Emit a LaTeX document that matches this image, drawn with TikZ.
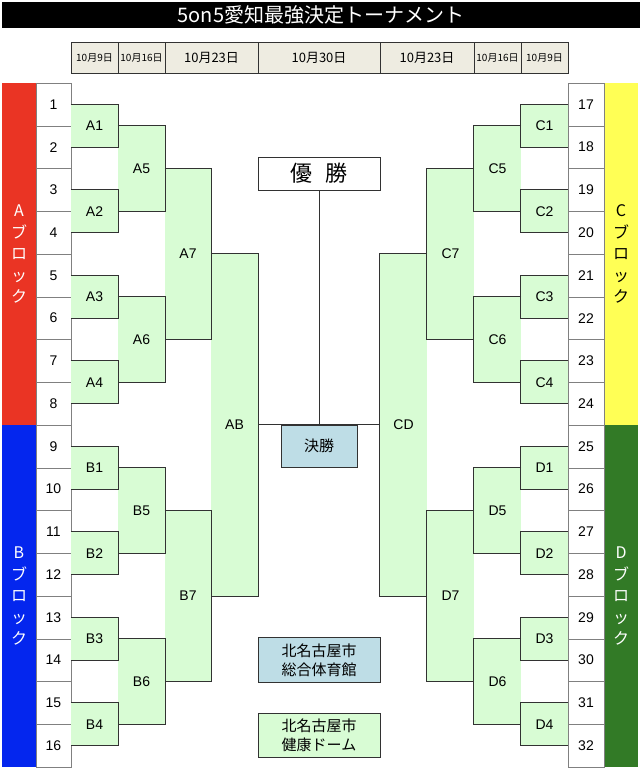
\documentclass[tikz,border=0pt]{standalone}
\usepackage{fontspec}
\setmainfont{Liberation Sans}
\newfontfamily\jp{Noto Sans CJK JP}
\usepackage{tikz}
\usetikzlibrary{positioning,calc}
\definecolor{trouge}{RGB}{234,52,36}
\definecolor{tbleu}{RGB}{4,38,238}
\definecolor{tjaune}{RGB}{255,255,85}
\definecolor{tvert}{RGB}{50,122,38}
\definecolor{tclair}{RGB}{216,252,212}
\definecolor{tciel}{RGB}{190,221,230}
\definecolor{tbeige}{RGB}{238,236,225}
\definecolor{ttrait}{RGB}{50,50,50}

\begin{document}
\begin{tikzpicture}[x=1pt, y=-1pt,
  num/.style={rectangle, draw=gray, fill=white, minimum width=35pt,
    minimum height=42.75pt, inner sep=0pt, font=\fontsize{14}{16}\selectfont},
  match/.style={rectangle, fill=tclair, minimum width=47pt, inner sep=0pt,
    font=\fontsize{14}{16}\selectfont},
  date/.style={rectangle, draw=ttrait, fill=tbeige, minimum height=31pt,
    inner sep=0pt, font=\jp\fontsize{13}{15}\selectfont},
  petit/.style={date, font=\jp\fontsize{10}{12}\selectfont},
  bloc/.style={rectangle, minimum width=35pt, minimum height=342pt, inner sep=0pt,
    align=center, font=\jp\fontsize{16}{21.5}\selectfont},
  info/.style={rectangle, draw=ttrait, minimum width=122pt, inner sep=0pt,
    align=center, font=\jp\fontsize{15}{19}\selectfont},
  trait/.style={ttrait, line width=0.8pt}
]
  \useasboundingbox (0,0) rectangle (640,770);

  % Title and dates
  \node[fill=black, text=white, minimum width=638pt, minimum height=26pt, inner sep=0pt,
    font=\jp\fontsize{20}{22}\selectfont] (titre) at (321,15) {5on5愛知最強決定トーナメント};
  \node[petit, minimum width=47pt] (jA1) at (94.5,57.5)  {10月9日};
  \node[petit, minimum width=47pt] (jA2) at (141.5,57.5) {10月16日};
  \node[date, minimum width=93pt]  (jA3) at (211.5,57.5) {10月23日};
  \node[date, minimum width=122pt] (jF)  at (319,57.5)   {10月30日};
  \node[date, minimum width=94pt]  (jC3) at (427,57.5)   {10月23日};
  \node[petit, minimum width=47pt] (jC2) at (497.5,57.5) {10月16日};
  \node[petit, minimum width=47pt] (jC1) at (544.5,57.5) {10月9日};

  % Blocks
  \node[bloc, fill=trouge, text=white] (blocA) at (19,254) {A\\ブ\\ロ\\ッ\\ク};
  \node[bloc, fill=tbleu, text=white]  (blocB) at (19,596) {B\\ブ\\ロ\\ッ\\ク};
  \node[bloc, fill=tjaune, minimum width=34pt] (blocC) at (621,254) {C\\ブ\\ロ\\ッ\\ク};
  \node[bloc, fill=tvert, text=white, minimum width=34pt] (blocD) at (621,596) {D\\ブ\\ロ\\ッ\\ク};

  % Team numbers
  \foreach \i in {1,...,16}
    \node[num] (n\i) at (53.5,{83+(\i-0.5)*42.75}) {\i};
  \foreach \i in {17,...,32}
    \node[num, minimum width=36pt] (n\i) at (586,{83+(\i-16.5)*42.75}) {\i};

  % Left half
  \node[match, minimum height=42.75pt] (A1) at (94.5,125.75) {A1};
  \node[match, minimum height=42.75pt] (A2) at (94.5,211.25) {A2};
  \node[match, minimum height=42.75pt] (A3) at (94.5,296.75) {A3};
  \node[match, minimum height=42.75pt] (A4) at (94.5,382.25) {A4};
  \node[match, minimum height=42.75pt] (B1) at (94.5,467.75) {B1};
  \node[match, minimum height=42.75pt] (B2) at (94.5,553.25) {B2};
  \node[match, minimum height=42.75pt] (B3) at (94.5,638.75) {B3};
  \node[match, minimum height=42.75pt] (B4) at (94.5,724.25) {B4};
  \node[match, minimum height=85.5pt] (A5) at (141.5,168.5) {A5};
  \node[match, minimum height=85.5pt] (A6) at (141.5,339.5) {A6};
  \node[match, minimum height=85.5pt] (B5) at (141.5,510.5) {B5};
  \node[match, minimum height=85.5pt] (B6) at (141.5,681.5) {B6};
  \node[match, minimum height=171pt, minimum width=46pt] (A7) at (188,254) {A7};
  \node[match, minimum height=171pt, minimum width=46pt] (B7) at (188,596) {B7};
  \node[match, minimum height=342pt] (AB) at (234.5,425) {AB};

  % Right half
  \node[match, minimum height=42.75pt] (C1) at (544.5,125.75) {C1};
  \node[match, minimum height=42.75pt] (C2) at (544.5,211.25) {C2};
  \node[match, minimum height=42.75pt] (C3) at (544.5,296.75) {C3};
  \node[match, minimum height=42.75pt] (C4) at (544.5,382.25) {C4};
  \node[match, minimum height=42.75pt] (D1) at (544.5,467.75) {D1};
  \node[match, minimum height=42.75pt] (D2) at (544.5,553.25) {D2};
  \node[match, minimum height=42.75pt] (D3) at (544.5,638.75) {D3};
  \node[match, minimum height=42.75pt] (D4) at (544.5,724.25) {D4};
  \node[match, minimum height=85.5pt] (C5) at (497.5,168.5) {C5};
  \node[match, minimum height=85.5pt] (C6) at (497.5,339.5) {C6};
  \node[match, minimum height=85.5pt] (D5) at (497.5,510.5) {D5};
  \node[match, minimum height=85.5pt] (D6) at (497.5,681.5) {D6};
  \node[match, minimum height=171pt] (C7) at (450.5,254) {C7};
  \node[match, minimum height=171pt] (D7) at (450.5,596) {D7};
  \node[match, minimum height=342pt] (CD) at (403.5,425) {CD};

  % Bracket lines
  \foreach \m in {A1,A2,A3,A4,B1,B2,B3,B4,A5,A6,B5,B6,A7,B7,AB}
    \draw[trait] (\m.north west) -- (\m.north east) -- (\m.south east) -- (\m.south west);
  \foreach \m in {C1,C2,C3,C4,D1,D2,D3,D4,C5,C6,D5,D6,C7,D7,CD}
    \draw[trait] (\m.north east) -- (\m.north west) -- (\m.south west) -- (\m.south east);

  % Final
  \node[info, fill=white, minimum height=33pt, font=\jp\fontsize{22}{24}\selectfont]
    (yusho) at (319,173.5) {優\hspace{0.55em}勝};
  \node[info, fill=tciel, minimum width=76pt, minimum height=42pt] (kessho) at (319,446) {決勝};
  \draw[trait] (yusho.south) -- (yusho.south |- kessho.north);
  \draw[trait] (AB.east |- kessho.north) -- (CD.west |- kessho.north);

  % Venues
  \node[info, fill=tciel, minimum height=45pt] (kaikan) at (319,660) {北名古屋市\\総合体育館};
  \node[info, fill=tclair, minimum height=44pt] (dome) at (319,735) {北名古屋市\\健康ドーム};
\end{tikzpicture}
\end{document}
